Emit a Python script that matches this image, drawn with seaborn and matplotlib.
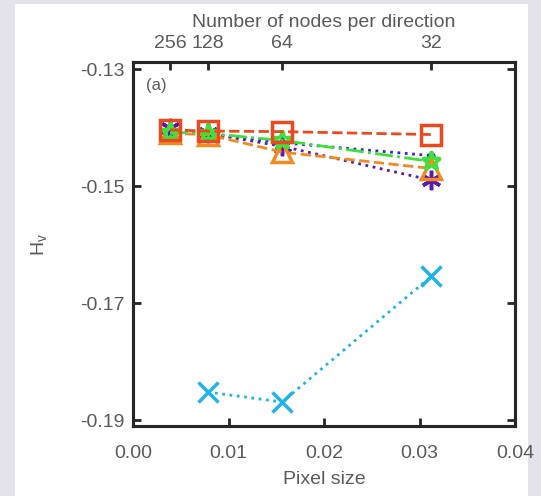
import numpy as np
import pandas as pd
import matplotlib
matplotlib.use("Agg")
import matplotlib.pyplot as plt
import seaborn as sns
from matplotlib.patches import Rectangle

sns.set_style("ticks")
plt.rcParams['font.family'] = ['Liberation Sans', 'DejaVu Sans']

# Data
nodes = [256, 128, 64, 32]
pixel_size = [1/256, 1/128, 1/64, 1/32]
s_red = [-0.1404, -0.1406, -0.1407, -0.1412]
s_orange = [-0.1410, -0.1412, -0.1442, -0.1470]
s_green = [-0.1408, -0.1410, -0.1422, -0.1458]
s_blue = [-0.1408, -0.1410, -0.1426, -0.1448]
s_purple = [-0.1401, -0.1410, -0.1432, -0.1490]
s_cyan = [np.nan, -0.1852, -0.1869, -0.1654]
x_ticks = [0.00, 0.01, 0.02, 0.03, 0.04]
y_ticks = [-0.13, -0.15, -0.17, -0.19]

TXT = '#5a5a5a'

fig = plt.figure(figsize=(5.41, 4.96), dpi=100)
fig.patch.set_facecolor('#e4e2eb')
bg = Rectangle((15/541, 0), (528-15)/541, 1-4/496, transform=fig.transFigure,
               facecolor='white', edgecolor='none', zorder=-10)
fig.add_artist(bg)
ax = fig.add_axes([133/541, 1-426/496, (515-133)/541, (426-62)/496])
ax.set_facecolor('white')

series = [
    (s_cyan, '#1eb4ea', ':', 'x', 'full'),
    (s_purple, '#5a1ab0', ':', (6, 2, 0), 'full'),
    (s_blue, '#2a2ad8', ':', '.', 'full'),
    (s_orange, '#f28a20', '--', '^', 'none'),
    (s_green, '#3ee03a', '-.', '*', 'none'),
    (s_red, '#ec4a1e', '--', 's', 'none'),
]
for vals, col, ls, mk, fill in series:
    df = pd.DataFrame({'x': pixel_size, 'y': vals}).dropna()
    ms = 14
    if mk == '.':
        ms = 7
    kw = dict(markerfacecolor='none') if fill == 'none' else {}
    sns.lineplot(data=df, x='x', y='y', ax=ax, color=col, linestyle=ls, linewidth=2,
                 marker=mk, markersize=ms, markeredgewidth=2.5, markeredgecolor=col, **kw)

ax.set_xlim(0, 0.04)
ax.set_ylim(-0.191, -0.1288)
ax.set_xticks(x_ticks)
ax.set_xticklabels([f"{v:.2f}" for v in x_ticks])
ax.set_yticks(y_ticks)
ax.set_yticklabels([f"{v:.2f}" for v in y_ticks])
ax.tick_params(axis='x', pad=14)
ax.tick_params(axis='y', pad=6)
ax.tick_params(direction='in', length=6, width=2, labelsize=14, labelcolor=TXT,
               right=True, top=False)
ax.set_xlabel('Pixel size', fontsize=14, color=TXT, labelpad=6)
ax.set_ylabel(r'H$_\mathregular{v}$', fontsize=14, color=TXT, labelpad=22)
for sp in ax.spines.values():
    sp.set_linewidth(2.2)
    sp.set_color('black')

ax2 = ax.twiny()
ax2.set_xlim(ax.get_xlim())
ax2.set_xticks(pixel_size)
ax2.set_xticklabels([str(n) for n in nodes])
ax2.tick_params(direction='in', length=6, width=2, labelsize=14, labelcolor=TXT, pad=7)
ax2.set_xlabel('Number of nodes per direction', fontsize=14, color=TXT, labelpad=6)
for sp in ax2.spines.values():
    sp.set_linewidth(2.2)

ax.text(0.035, 0.955, '(a)', transform=ax.transAxes, fontsize=12, color=TXT,
        ha='left', va='top')

fig.savefig('out.png', dpi=100)
